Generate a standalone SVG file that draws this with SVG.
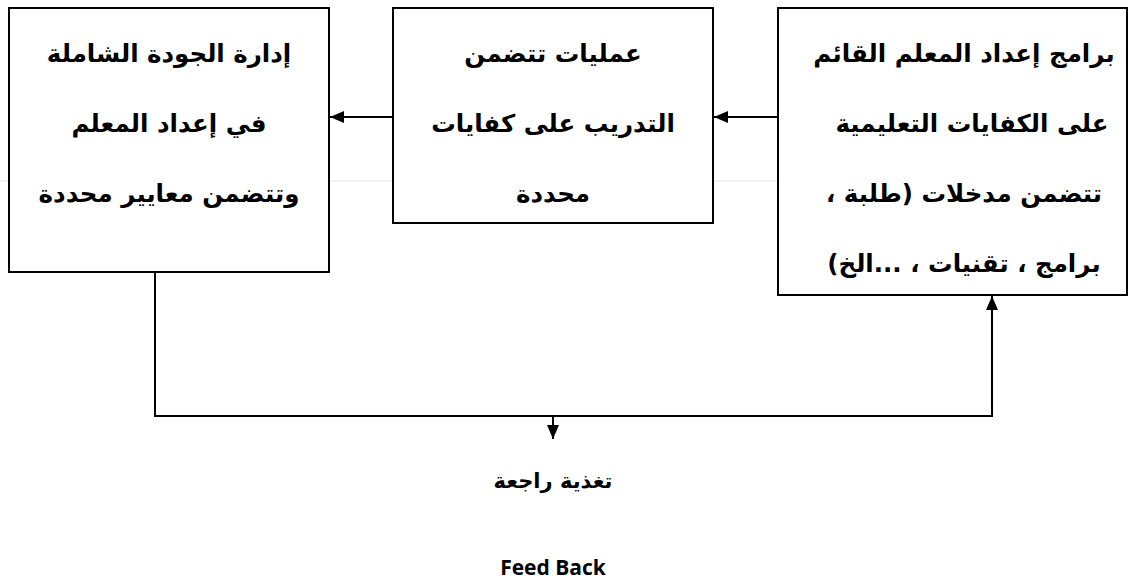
<svg xmlns="http://www.w3.org/2000/svg" width="1128" height="581" viewBox="0 0 1128 581">
<style>
.box{fill:#fff;stroke:#000;stroke-width:2}
.ar{font-family:"DejaVu Sans",sans-serif;font-weight:bold;font-size:24.5px;fill:#000;direction:rtl}
.fb{font-family:"DejaVu Sans",sans-serif;font-weight:bold;font-size:21px;fill:#000;direction:rtl}
.en{font-family:"Open Sans","Liberation Sans",sans-serif;font-weight:bold;font-size:21px;fill:#000}
.ln{fill:none;stroke:#000;stroke-width:2}
</style>
<defs>
<marker id="ah" viewBox="0 0 14 12" refX="14" refY="6" markerWidth="14" markerHeight="12" markerUnits="userSpaceOnUse" orient="auto">
<path d="M0,0 L14,6 L0,12 Z" fill="#000"/>
</marker>
</defs>
<rect width="1128" height="581" fill="#fff"/>
<line x1="0" y1="181" x2="1128" y2="181" stroke="#e6e6e6" stroke-width="1"/>
<g id="node-left">
<rect class="box" x="9" y="8" width="320" height="264"/>
<text class="ar" x="169" y="62" text-anchor="middle">إدارة الجودة الشاملة</text>
<text class="ar" x="169" y="132" text-anchor="middle">في إعداد المعلم</text>
<text class="ar" x="169" y="202" text-anchor="middle">وتتضمن معايير محددة</text>
</g>
<g id="node-middle">
<rect class="box" x="393" y="8" width="320" height="215"/>
<text class="ar" x="553" y="62" text-anchor="middle">عمليات تتضمن</text>
<text class="ar" x="553" y="132" text-anchor="middle">التدريب على كفايات</text>
<text class="ar" x="553" y="202" text-anchor="middle">محددة</text>
</g>
<g id="node-right">
<rect class="box" x="778" y="8" width="349" height="287"/>
<text class="ar" x="964" y="62" text-anchor="middle">برامج إعداد المعلم القائم</text>
<text class="ar" x="972" y="132" text-anchor="middle">على الكفايات التعليمية</text>
<text class="ar" x="964" y="202" text-anchor="middle">تتضمن مدخلات (طلبة ،</text>
<text class="ar" x="964" y="272" text-anchor="middle">برامج ، تقنيات ، ...الخ)</text>
</g>
<g id="node-feedback">
<text class="fb" x="553" y="488" text-anchor="middle">تغذية راجعة</text>
<text class="en" x="553" y="575" text-anchor="middle">Feed Back</text>
</g>
<g id="connectors">
<line class="ln" x1="778" y1="117" x2="714" y2="117" marker-end="url(#ah)"/>
<line class="ln" x1="393" y1="117" x2="330" y2="117" marker-end="url(#ah)"/>
<polyline class="ln" points="155,272 155,416 992,416 992,296" marker-end="url(#ah)"/>
<line class="ln" x1="553" y1="416" x2="553" y2="439" marker-end="url(#ah)"/>
</g>
</svg>
